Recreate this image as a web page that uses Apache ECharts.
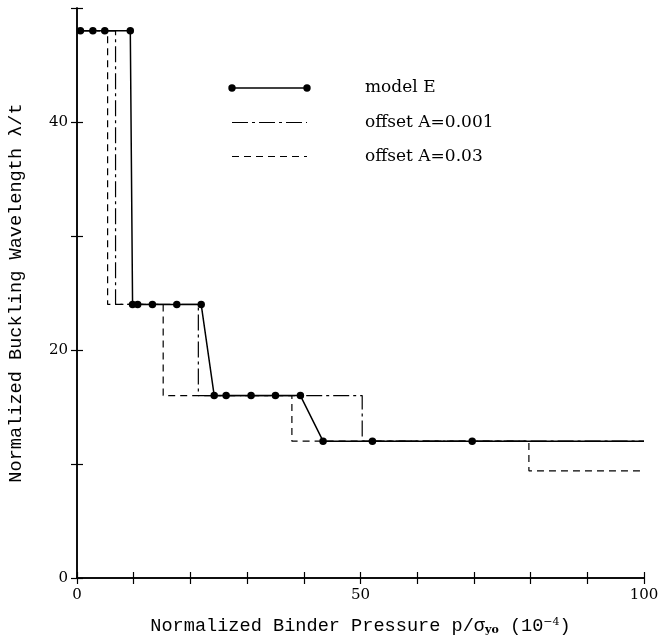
<!DOCTYPE html>
<html>
<head>
<meta charset="utf-8">
<script src="https://cdn.jsdelivr.net/npm/echarts@6/dist/echarts.min.js"></script>
<style>html,body{margin:0;padding:0;background:#fff}#c{width:661px;height:643px}</style>
</head>
<body>
<div id="c"></div>
<script>
// Data
var modelE_x = [0.6, 2.8, 4.9, 9.4, 9.8, 10.7, 13.3, 17.6, 21.9, 24.2, 26.3, 30.7, 35.0, 39.4, 43.4, 52.1, 69.7, 100];
var modelE_y = [48, 48, 48, 48, 24, 24, 24, 24, 24, 16, 16, 16, 16, 16, 12, 12, 12, 12];
var modelE_dot = [true, true, true, true, true, true, true, true, true, true, true, true, true, true, true, true, true, false];
var offset001_x = [0, 6.8, 6.8, 21.4, 21.4, 50.3, 50.3, 100];
var offset001_y = [48, 48, 24, 24, 16, 16, 12, 12];
var offset03_x = [0, 5.4, 5.4, 15.2, 15.2, 37.9, 37.9, 79.7, 79.7, 100];
var offset03_y = [48, 48, 24, 24, 16, 16, 12, 12, 9.4, 9.4];
var seriesNames = ['model E', 'offset A=0.001', 'offset A=0.03'];
var xTickLabels = [0, 50, 100];
var yTickLabels = [0, 20, 40];

function pairs(xs, ys) { return xs.map(function (x, i) { return [x, ys[i]]; }); }

var chart = echarts.init(document.getElementById('c'));
var serif = '"DejaVu Serif", serif';
var titleFont = '"Liberation Mono", monospace';

var eData = pairs(modelE_x, modelE_y).map(function (p, i) {
  return modelE_dot[i] ? p : { value: p, symbol: 'none' };
});

var axisLine = { show: true, lineStyle: { color: '#000', width: 1.5 } };
var tick = { show: true, inside: true, length: 6, lineStyle: { color: '#000', width: 1.2 } };

// legend positions (pixels)
var lgX0 = 232, lgX1 = 307, lgTx = 365, lgY = [88, 122.5, 156.5];

var option = {
  backgroundColor: '#fff',
  animation: false,
  grid: { left: 77, right: 17, top: 8, bottom: 65, containLabel: false, outerBoundsMode: 'none' },
  xAxis: [{
    type: 'value', min: 0, max: 100, interval: 10,
    axisLine: axisLine, axisTick: tick, splitLine: { show: false },
    axisLabel: {
      margin: 10, color: '#000', fontFamily: serif, fontSize: 15,
      formatter: function (v) { return xTickLabels.indexOf(v) >= 0 ? String(v) : ''; }
    },
    name: '{a|Normalized Binder Pressure p/σ}{s|yo}{a| (10}{p|−4}{a|)}',
    nameLocation: 'middle', nameGap: 39,
    nameTextStyle: {
      color: '#000',
      rich: {
        a: { fontFamily: titleFont, fontSize: 18.6, color: '#000' },
        s: { fontFamily: serif, fontSize: 11, color: '#000', padding: [8, 0, 0, 0], fontWeight: 'bold' },
        p: { fontFamily: serif, fontSize: 11, color: '#000', padding: [0, 0, 8, 0] }
      }
    }
  }, {
    type: 'value', position: 'top', min: 0, max: 100, interval: 10,
    axisLine: axisLine, axisTick: tick, axisLabel: { show: false }, splitLine: { show: false }
  }],
  yAxis: [{
    type: 'value', min: 0, max: 50, interval: 10,
    axisLine: axisLine, axisTick: tick, splitLine: { show: false },
    axisLabel: {
      margin: 9, color: '#000', fontFamily: serif, fontSize: 15,
      formatter: function (v) { return yTickLabels.indexOf(v) >= 0 ? String(v) : ''; }
    },
    name: 'Normalized Buckling Wavelength λ/t',
    nameLocation: 'middle', nameGap: 51, nameRotate: 90,
    nameTextStyle: { color: '#000', fontFamily: titleFont, fontSize: 18.6 }
  }, {
    type: 'value', position: 'right', min: 0, max: 50, interval: 10,
    axisLine: axisLine, axisTick: tick, axisLabel: { show: false }, splitLine: { show: false }
  }],
  series: [{
    name: seriesNames[2], type: 'line', data: pairs(offset03_x, offset03_y), showSymbol: false, symbol: 'none',
    lineStyle: { color: '#000', width: 1.2, type: [7, 5] }, z: 2
  }, {
    name: seriesNames[1], type: 'line', data: pairs(offset001_x, offset001_y), showSymbol: false, symbol: 'none',
    lineStyle: { color: '#000', width: 1.2, type: [16, 4, 3, 4] }, z: 3
  }, {
    name: seriesNames[0], type: 'line', data: eData, symbol: 'circle', symbolSize: 7.5,
    itemStyle: { color: '#000' }, lineStyle: { color: '#000', width: 1.5 }, z: 4
  }],
  graphic: [
    { type: 'line', shape: { x1: lgX0, y1: lgY[0], x2: lgX1, y2: lgY[0] }, style: { stroke: '#000', lineWidth: 1.5 } },
    { type: 'circle', shape: { cx: lgX0, cy: lgY[0], r: 3.7 }, style: { fill: '#000' } },
    { type: 'circle', shape: { cx: lgX1, cy: lgY[0], r: 3.7 }, style: { fill: '#000' } },
    { type: 'line', shape: { x1: lgX0, y1: lgY[1], x2: lgX1, y2: lgY[1] }, style: { stroke: '#000', lineWidth: 1.2, lineDash: [16, 4, 3, 4] } },
    { type: 'line', shape: { x1: lgX0, y1: lgY[2], x2: lgX1, y2: lgY[2] }, style: { stroke: '#000', lineWidth: 1.2, lineDash: [7, 5] } },
    { type: 'text', x: lgTx, y: lgY[0], style: { text: seriesNames[0], fill: '#000', font: '17px ' + serif, verticalAlign: 'middle' } },
    { type: 'text', x: lgTx, y: lgY[1], style: { text: seriesNames[1], fill: '#000', font: '17px ' + serif, verticalAlign: 'middle' } },
    { type: 'text', x: lgTx, y: lgY[2], style: { text: seriesNames[2], fill: '#000', font: '17px ' + serif, verticalAlign: 'middle' } }
  ]
};
chart.setOption(option);
</script>
</body>
</html>
